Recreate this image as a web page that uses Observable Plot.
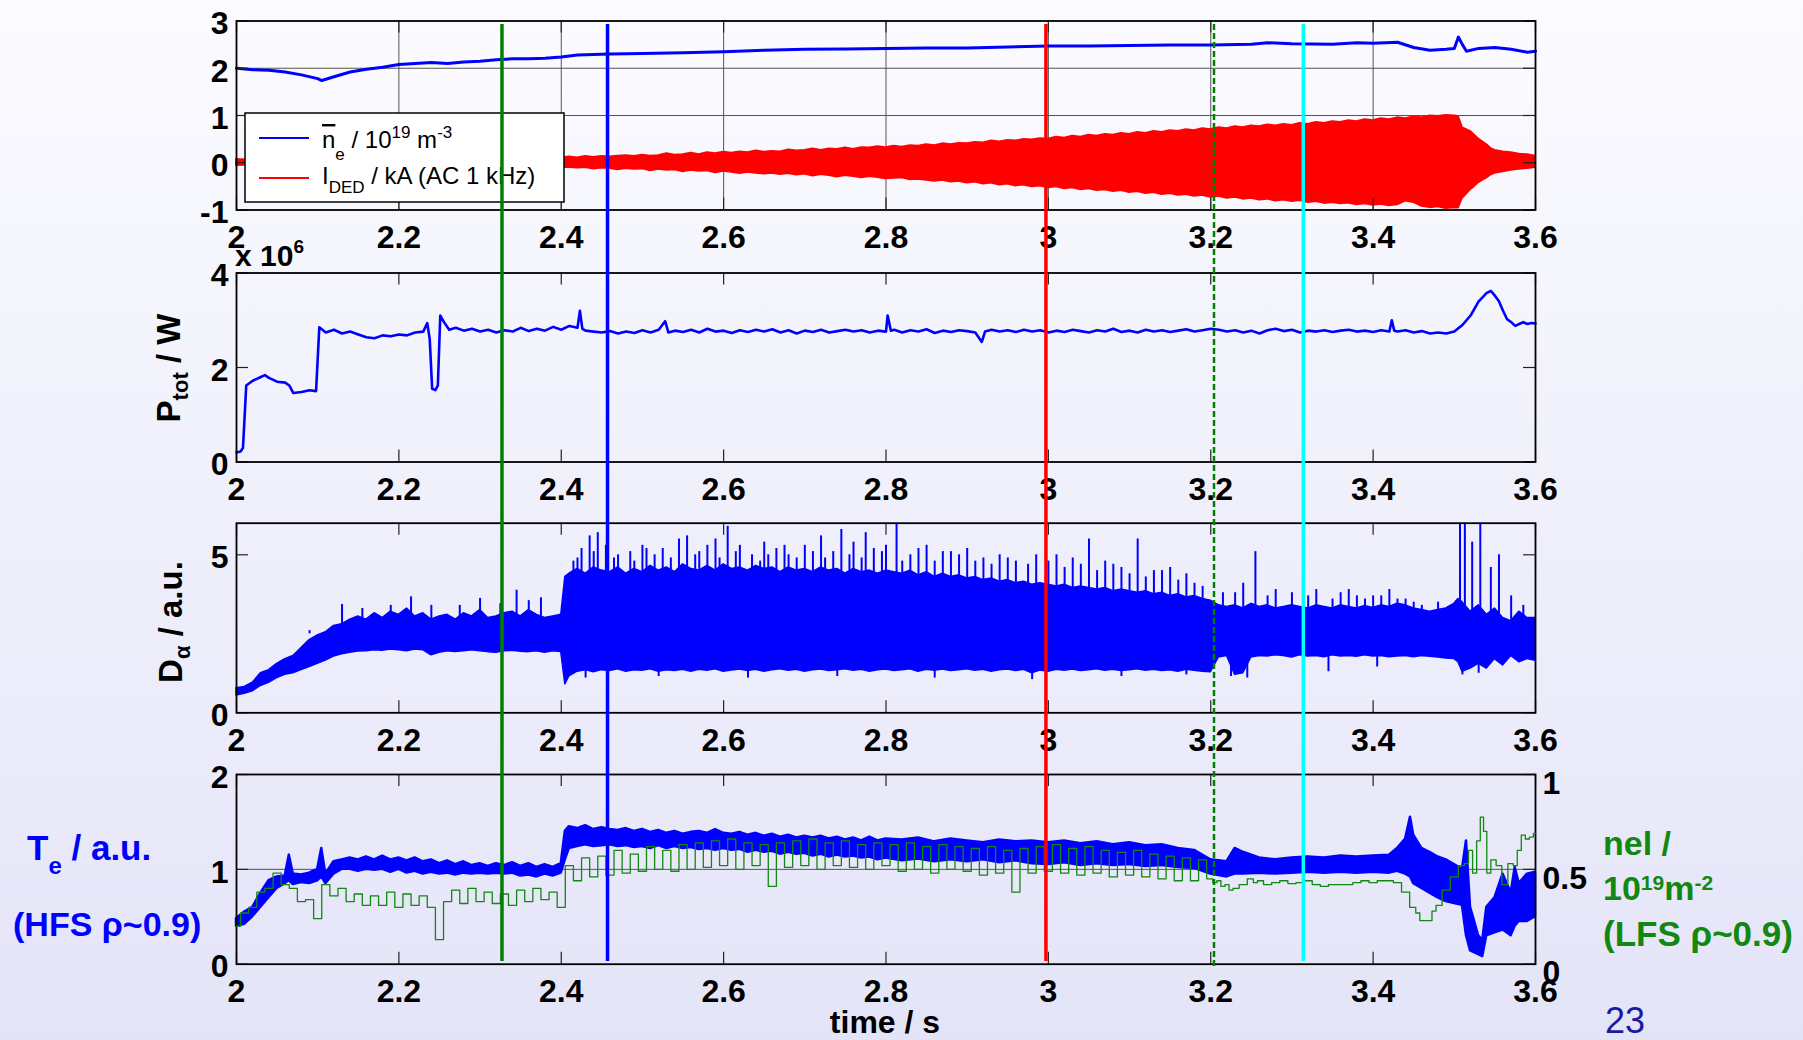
<!DOCTYPE html>
<html><head><meta charset="utf-8">
<script src="https://cdn.jsdelivr.net/npm/d3@7"></script>
<script src="https://cdn.jsdelivr.net/npm/@observablehq/plot@0.6"></script>
<style>
body{margin:0;}
#wrap{position:relative;width:1803px;height:1040px;overflow:hidden;background:linear-gradient(#fbfbff,#e4e4f8);}
#wrap svg{position:absolute;left:0;top:0;overflow:visible;}
</style></head><body><div id="wrap"></div>
<script>
// ---------- data ----------
const xTicks = [2,2.2,2.4,2.6,2.8,3,3.2,3.4,3.6];
const gridXs = [2.2,2.4,2.6,2.8,3,3.2,3.4];
const y1Ticks = [-1,0,1,2,3];
const y2Ticks = [0,2,4];
const y3Ticks = [0,5];
const y4Ticks = [0,1,2];
const y4rTicks = [0,0.5,1];

// panel 1: line-averaged density (1e19 m^-3)
const ne = [[2.00,2.00],[2.02,1.97],[2.04,1.96],[2.06,1.92],[2.08,1.86],[2.10,1.78],[2.105,1.74],[2.12,1.82],[2.14,1.92],[2.16,1.98],[2.18,2.02],[2.20,2.08],[2.22,2.10],[2.24,2.12],[2.26,2.10],[2.28,2.13],[2.30,2.15],[2.32,2.18],[2.34,2.20],[2.36,2.20],[2.38,2.21],[2.40,2.24],[2.42,2.28],[2.44,2.29],[2.46,2.30],[2.50,2.31],[2.55,2.33],[2.60,2.35],[2.65,2.38],[2.70,2.40],[2.75,2.41],[2.80,2.42],[2.85,2.43],[2.90,2.43],[2.95,2.45],[3.00,2.47],[3.05,2.47],[3.10,2.48],[3.15,2.49],[3.20,2.49],[3.25,2.51],[3.27,2.54],[3.30,2.52],[3.35,2.51],[3.38,2.54],[3.40,2.53],[3.43,2.55],[3.45,2.44],[3.47,2.38],[3.49,2.40],[3.50,2.42],[3.505,2.66],[3.51,2.50],[3.515,2.36],[3.53,2.42],[3.55,2.44],[3.57,2.40],[3.59,2.34],[3.60,2.36]];
// panel 1: I_DED envelope (t, lower, upper) kA
const ided = [[2.00,-0.06,0.07],[2.02,-0.05,0.05],[2.05,-0.06,0.06],[2.10,-0.06,0.06],[2.20,-0.07,0.07],[2.30,-0.08,0.08],[2.40,-0.10,0.10],[2.41,-0.10,0.12],[2.42,-0.11,0.10],[2.43,-0.10,0.13],[2.44,-0.13,0.11],[2.45,-0.11,0.13],[2.46,-0.12,0.12],[2.47,-0.15,0.14],[2.48,-0.12,0.15],[2.49,-0.14,0.13],[2.50,-0.13,0.16],[2.51,-0.17,0.14],[2.52,-0.14,0.15],[2.53,-0.16,0.19],[2.54,-0.15,0.16],[2.55,-0.19,0.17],[2.56,-0.16,0.20],[2.57,-0.18,0.17],[2.58,-0.17,0.21],[2.59,-0.21,0.19],[2.60,-0.18,0.22],[2.61,-0.20,0.20],[2.62,-0.23,0.23],[2.63,-0.20,0.21],[2.64,-0.22,0.25],[2.65,-0.24,0.22],[2.66,-0.22,0.24],[2.67,-0.25,0.23],[2.68,-0.23,0.27],[2.69,-0.26,0.25],[2.70,-0.24,0.26],[2.71,-0.28,0.29],[2.72,-0.25,0.26],[2.73,-0.27,0.29],[2.74,-0.30,0.28],[2.75,-0.27,0.31],[2.76,-0.29,0.28],[2.77,-0.32,0.32],[2.78,-0.29,0.31],[2.79,-0.31,0.34],[2.80,-0.34,0.32],[2.81,-0.33,0.35],[2.82,-0.32,0.33],[2.83,-0.36,0.36],[2.84,-0.35,0.35],[2.85,-0.37,0.38],[2.86,-0.39,0.36],[2.87,-0.37,0.40],[2.88,-0.41,0.38],[2.89,-0.39,0.41],[2.90,-0.43,0.40],[2.91,-0.41,0.43],[2.92,-0.45,0.42],[2.93,-0.43,0.46],[2.94,-0.47,0.44],[2.95,-0.45,0.47],[2.96,-0.49,0.46],[2.97,-0.47,0.49],[2.98,-0.51,0.48],[2.99,-0.49,0.51],[3.00,-0.53,0.50],[3.01,-0.51,0.54],[3.02,-0.55,0.52],[3.03,-0.53,0.56],[3.04,-0.57,0.54],[3.05,-0.55,0.58],[3.06,-0.59,0.56],[3.07,-0.57,0.60],[3.08,-0.61,0.58],[3.09,-0.59,0.62],[3.10,-0.63,0.60],[3.11,-0.61,0.64],[3.12,-0.65,0.62],[3.13,-0.63,0.66],[3.14,-0.67,0.64],[3.15,-0.65,0.68],[3.16,-0.69,0.66],[3.17,-0.67,0.70],[3.18,-0.71,0.68],[3.19,-0.69,0.72],[3.20,-0.73,0.70],[3.21,-0.71,0.74],[3.22,-0.75,0.72],[3.23,-0.73,0.76],[3.24,-0.77,0.74],[3.25,-0.75,0.78],[3.26,-0.79,0.76],[3.27,-0.77,0.80],[3.28,-0.81,0.78],[3.29,-0.79,0.81],[3.30,-0.82,0.79],[3.31,-0.80,0.83],[3.32,-0.84,0.81],[3.33,-0.82,0.85],[3.34,-0.86,0.83],[3.35,-0.84,0.87],[3.36,-0.87,0.85],[3.37,-0.85,0.89],[3.38,-0.89,0.87],[3.39,-0.87,0.91],[3.40,-0.90,0.89],[3.41,-0.88,0.93],[3.42,-0.91,0.91],[3.43,-0.89,0.95],[3.44,-0.81,0.93],[3.45,-0.84,0.97],[3.46,-0.92,0.95],[3.47,-0.95,0.99],[3.48,-0.93,0.98],[3.49,-0.97,1.00],[3.50,-0.95,0.99],[3.505,-0.96,0.98],[3.51,-0.75,0.74],[3.515,-0.66,0.70],[3.52,-0.57,0.66],[3.525,-0.50,0.58],[3.53,-0.42,0.50],[3.54,-0.32,0.38],[3.545,-0.26,0.30],[3.55,-0.22,0.26],[3.56,-0.19,0.23],[3.57,-0.16,0.21],[3.58,-0.14,0.18],[3.59,-0.12,0.17],[3.60,-0.10,0.14]];

// panel 2: P_tot (1e6 W)
const ptot = [[2.000,0.20],[2.005,0.22],[2.008,0.30],[2.012,1.62],[2.02,1.72],[2.03,1.80],[2.035,1.84],[2.04,1.78],[2.05,1.70],[2.06,1.68],[2.065,1.62],[2.07,1.46],[2.08,1.48],[2.09,1.52],[2.098,1.50],[2.102,2.85],[2.11,2.74],[2.12,2.80],[2.13,2.72],[2.14,2.76],[2.15,2.70],[2.16,2.64],[2.17,2.62],[2.18,2.68],[2.19,2.66],[2.20,2.70],[2.21,2.68],[2.22,2.74],[2.23,2.76],[2.235,2.94],[2.238,2.60],[2.241,1.55],[2.245,1.52],[2.248,1.62],[2.251,3.10],[2.256,2.95],[2.262,2.80],[2.27,2.84],[2.28,2.78],[2.29,2.82],[2.30,2.76],[2.31,2.80],[2.32,2.74],[2.33,2.79],[2.34,2.76],[2.35,2.84],[2.36,2.77],[2.37,2.82],[2.38,2.78],[2.39,2.86],[2.40,2.80],[2.41,2.88],[2.42,2.84],[2.423,3.20],[2.426,2.82],[2.43,2.78],[2.44,2.76],[2.45,2.74],[2.46,2.77],[2.47,2.72],[2.48,2.76],[2.49,2.73],[2.50,2.79],[2.51,2.74],[2.52,2.80],[2.528,2.98],[2.532,2.74],[2.54,2.78],[2.55,2.75],[2.56,2.80],[2.57,2.74],[2.58,2.82],[2.59,2.76],[2.60,2.78],[2.61,2.73],[2.62,2.79],[2.63,2.75],[2.64,2.80],[2.65,2.76],[2.66,2.81],[2.67,2.74],[2.68,2.79],[2.69,2.72],[2.70,2.78],[2.71,2.75],[2.72,2.80],[2.73,2.74],[2.74,2.77],[2.75,2.80],[2.76,2.76],[2.77,2.79],[2.78,2.74],[2.79,2.78],[2.80,2.76],[2.802,3.10],[2.806,2.78],[2.81,2.80],[2.82,2.74],[2.83,2.79],[2.84,2.76],[2.85,2.81],[2.86,2.73],[2.87,2.78],[2.88,2.75],[2.89,2.79],[2.90,2.77],[2.91,2.74],[2.918,2.54],[2.922,2.76],[2.93,2.80],[2.94,2.76],[2.95,2.79],[2.96,2.75],[2.97,2.80],[2.98,2.76],[2.99,2.79],[3.00,2.74],[3.01,2.78],[3.02,2.75],[3.03,2.80],[3.04,2.77],[3.05,2.74],[3.06,2.79],[3.07,2.76],[3.08,2.82],[3.09,2.75],[3.10,2.78],[3.11,2.74],[3.12,2.80],[3.13,2.76],[3.14,2.79],[3.15,2.75],[3.16,2.78],[3.17,2.81],[3.18,2.76],[3.19,2.79],[3.20,2.82],[3.21,2.80],[3.22,2.76],[3.23,2.79],[3.24,2.74],[3.25,2.78],[3.26,2.72],[3.27,2.79],[3.28,2.82],[3.29,2.77],[3.30,2.80],[3.31,2.74],[3.32,2.78],[3.33,2.76],[3.34,2.79],[3.35,2.75],[3.36,2.78],[3.37,2.80],[3.38,2.76],[3.39,2.78],[3.40,2.75],[3.41,2.79],[3.42,2.76],[3.423,3.00],[3.426,2.78],[3.43,2.76],[3.44,2.79],[3.45,2.74],[3.46,2.77],[3.47,2.72],[3.48,2.74],[3.49,2.72],[3.50,2.76],[3.51,2.90],[3.52,3.10],[3.53,3.40],[3.54,3.58],[3.545,3.62],[3.55,3.52],[3.555,3.40],[3.56,3.20],[3.565,3.02],[3.57,2.96],[3.575,2.88],[3.58,2.92],[3.585,2.96],[3.59,2.92],[3.595,2.94],[3.60,2.93]];

// panel 3: D_alpha band (t, low, high) a.u.
const da = [[2.00,.55,.78],[2.01,.60,.82],[2.02,.68,.95],[2.03,.85,1.25],[2.04,.95,1.35],[2.05,1.10,1.55],[2.06,1.20,1.70],[2.07,1.25,1.80],[2.08,1.35,2.05],[2.09,1.45,2.30],[2.10,1.55,2.45],[2.11,1.65,2.55],[2.12,1.78,2.75],[2.13,1.85,2.80],[2.14,1.90,2.95],[2.15,1.94,3.05],[2.16,1.95,2.95],[2.17,1.98,3.15],[2.18,1.96,3.00],[2.19,2.00,3.20],[2.20,1.98,3.10],[2.21,1.95,3.30],[2.22,2.00,3.05],[2.23,1.98,3.15],[2.24,1.82,2.95],[2.25,1.90,3.05],[2.26,1.95,3.10],[2.27,1.92,2.95],[2.28,1.95,3.15],[2.29,1.98,3.05],[2.30,1.95,3.25],[2.31,1.92,3.00],[2.32,1.90,3.05],[2.33,1.95,3.15],[2.34,1.96,3.20],[2.35,1.93,3.05],[2.36,1.92,3.25],[2.37,1.95,3.10],[2.38,1.90,3.00],[2.39,1.95,3.05],[2.40,1.92,3.10],[2.405,0.90,4.30],[2.41,1.15,4.40],[2.42,1.30,4.55],[2.43,1.35,4.40],[2.44,1.28,4.60],[2.45,1.35,4.50],[2.46,1.32,4.45],[2.47,1.38,4.60],[2.48,1.30,4.40],[2.49,1.35,4.55],[2.50,1.33,4.45],[2.51,1.38,4.65],[2.52,1.30,4.50],[2.53,1.35,4.60],[2.54,1.32,4.45],[2.55,1.36,4.70],[2.56,1.30,4.55],[2.57,1.36,4.50],[2.58,1.33,4.65],[2.59,1.38,4.50],[2.60,1.30,4.70],[2.61,1.34,4.55],[2.62,1.37,4.60],[2.63,1.32,4.50],[2.64,1.36,4.65],[2.65,1.30,4.55],[2.66,1.35,4.60],[2.67,1.38,4.45],[2.68,1.33,4.60],[2.69,1.36,4.50],[2.70,1.30,4.55],[2.71,1.35,4.45],[2.72,1.37,4.60],[2.73,1.32,4.50],[2.74,1.35,4.55],[2.75,1.38,4.40],[2.76,1.33,4.55],[2.77,1.36,4.45],[2.78,1.30,4.50],[2.79,1.35,4.40],[2.80,1.37,4.50],[2.81,1.32,4.45],[2.82,1.35,4.40],[2.83,1.38,4.50],[2.84,1.30,4.35],[2.85,1.36,4.45],[2.86,1.33,4.30],[2.87,1.37,4.40],[2.88,1.32,4.30],[2.89,1.35,4.35],[2.90,1.38,4.25],[2.91,1.33,4.30],[2.92,1.36,4.20],[2.93,1.30,4.25],[2.94,1.35,4.15],[2.95,1.37,4.20],[2.96,1.32,4.10],[2.97,1.36,4.15],[2.98,1.25,4.05],[2.99,1.34,4.10],[3.00,1.30,4.05],[3.01,1.36,4.00],[3.02,1.33,4.05],[3.03,1.37,3.95],[3.04,1.32,4.00],[3.05,1.35,3.95],[3.06,1.38,3.90],[3.07,1.33,3.95],[3.08,1.36,3.85],[3.09,1.32,3.90],[3.10,1.35,3.85],[3.11,1.38,3.80],[3.12,1.33,3.85],[3.13,1.36,3.75],[3.14,1.32,3.80],[3.15,1.35,3.70],[3.16,1.30,3.75],[3.17,1.36,3.65],[3.18,1.33,3.70],[3.19,1.30,3.60],[3.20,1.28,3.55],[3.21,1.75,3.40],[3.22,1.80,3.35],[3.23,1.20,3.40],[3.24,1.25,3.30],[3.25,1.75,3.45],[3.26,1.80,3.35],[3.27,1.78,3.40],[3.28,1.82,3.30],[3.29,1.80,3.35],[3.30,1.75,3.40],[3.31,1.82,3.35],[3.32,1.78,3.30],[3.33,1.80,3.40],[3.34,1.76,3.35],[3.35,1.82,3.30],[3.36,1.78,3.40],[3.37,1.80,3.35],[3.38,1.77,3.30],[3.39,1.82,3.38],[3.40,1.78,3.32],[3.41,1.80,3.40],[3.42,1.76,3.35],[3.43,1.78,3.45],[3.44,1.80,3.40],[3.45,1.76,3.30],[3.46,1.80,3.25],[3.47,1.77,3.20],[3.48,1.75,3.25],[3.49,1.72,3.30],[3.50,1.70,3.45],[3.505,1.60,3.60],[3.51,1.30,3.50],[3.52,1.40,3.20],[3.53,1.55,3.40],[3.54,1.40,3.10],[3.55,1.70,3.30],[3.56,1.50,3.00],[3.57,1.80,2.90],[3.58,1.60,3.20],[3.59,1.70,3.00],[3.60,1.65,3.00]];
// panel 3: D_alpha spikes (t, peak or dip)
const daSpikes = [[2.09,2.6],[2.13,3.43],[2.155,3.3],[2.19,3.40],[2.215,3.67],[2.24,3.4],[2.275,3.4],[2.30,3.62],[2.325,3.45],[2.345,3.88],[2.36,3.55],[2.375,3.64],
[2.415,4.8],[2.42,4.9],[2.425,5.2],[2.435,5.6],[2.44,5.1],[2.445,5.7],[2.455,5.3],[2.465,4.9],[2.47,5.0],[2.485,5.1],[2.49,4.8],[2.50,5.3],[2.505,5.2],[2.515,5.0],[2.525,5.2],[2.535,4.9],[2.545,5.5],[2.555,5.6],[2.565,5.0],[2.57,5.1],[2.58,5.3],[2.59,5.5],[2.595,4.9],[2.605,5.9],[2.615,5.1],[2.62,5.3],[2.635,5.0],[2.645,4.8],[2.65,5.4],[2.655,5.0],[2.665,5.2],[2.675,5.3],[2.68,5.0],[2.69,4.9],[2.70,5.3],[2.71,5.1],[2.72,5.6],[2.725,4.9],[2.735,5.1],[2.745,5.8],[2.755,5.0],[2.76,5.4],[2.77,4.9],[2.775,5.7],[2.785,5.2],[2.795,5.1],[2.80,5.3],[2.813,6.0],[2.82,4.8],[2.83,5.0],[2.84,5.2],[2.85,5.3],[2.86,4.8],[2.87,5.1],[2.88,5.1],[2.89,5.0],[2.90,5.2],[2.91,4.8],[2.92,4.9],[2.93,4.7],[2.94,5.0],[2.95,4.9],[2.96,4.8],[2.975,4.7],[2.985,5.0],[3.00,4.8],[3.01,5.0],[3.02,4.6],[3.03,4.9],[3.04,4.7],[3.05,5.5],[3.06,4.5],[3.07,4.8],[3.08,4.7],[3.09,4.6],[3.10,4.4],[3.11,5.5],[3.12,4.3],[3.13,4.5],[3.14,4.5],[3.15,4.6],[3.16,4.2],[3.17,4.4],[3.18,4.1],[3.19,4.0],[3.215,3.8],[3.23,3.8],[3.24,4.1],[3.255,5.1],[3.27,3.7],[3.28,3.9],[3.30,3.8],[3.32,3.7],[3.33,3.9],[3.35,3.6],[3.36,3.8],[3.37,3.9],[3.38,3.7],[3.39,3.6],[3.40,3.7],[3.41,3.7],[3.42,3.9],[3.43,3.6],[3.44,3.6],[3.45,3.5],[3.46,3.4],[3.48,3.5],[3.507,6.0],[3.513,6.0],[3.522,5.4],[3.532,6.0],[3.545,4.6],[3.555,5.0],[3.57,3.7],[3.585,3.4],
[2.43,1.1],[2.52,1.15],[2.63,1.1],[2.74,1.15],[2.86,1.1],[2.98,1.05],[3.09,1.15],[3.17,1.2],[3.225,1.15],[3.245,1.1],[3.345,1.3],[3.405,1.45],[3.51,1.2],[3.53,1.25]];

// panel 4: T_e band (t, low, high) a.u.
const te = [[2.00,.40,.48],[2.01,.42,.55],[2.02,.50,.60],[2.03,.60,.75],[2.04,.70,.88],[2.05,.80,.92],[2.06,.85,.93],[2.065,.88,1.15],[2.07,.84,.95],[2.08,.86,.94],[2.09,.85,.96],[2.10,.88,1.00],[2.105,.92,1.22],[2.11,.85,.95],[2.12,.95,1.08],[2.13,1.00,1.10],[2.14,1.00,1.12],[2.15,.98,1.10],[2.16,1.00,1.13],[2.17,.99,1.10],[2.18,1.00,1.14],[2.19,.97,1.10],[2.20,1.00,1.12],[2.21,.96,1.09],[2.22,.98,1.12],[2.23,.95,1.08],[2.24,.97,1.10],[2.25,.95,1.06],[2.26,.96,1.09],[2.27,.94,1.05],[2.28,.96,1.08],[2.29,.95,1.04],[2.30,.96,1.06],[2.31,.95,1.03],[2.32,.96,1.06],[2.33,.95,1.04],[2.34,.96,1.07],[2.35,.93,1.03],[2.36,.94,1.06],[2.37,.92,1.02],[2.38,.95,1.05],[2.39,.93,1.02],[2.40,.96,1.06],[2.405,1.10,1.40],[2.41,1.22,1.45],[2.42,1.24,1.43],[2.43,1.26,1.46],[2.44,1.24,1.42],[2.45,1.25,1.44],[2.46,1.26,1.42],[2.47,1.24,1.41],[2.48,1.25,1.43],[2.49,1.23,1.40],[2.50,1.24,1.42],[2.51,1.22,1.39],[2.52,1.25,1.41],[2.53,1.22,1.38],[2.54,1.24,1.40],[2.55,1.22,1.37],[2.56,1.23,1.39],[2.57,1.21,1.40],[2.58,1.22,1.38],[2.59,1.20,1.42],[2.60,1.22,1.38],[2.61,1.20,1.37],[2.62,1.21,1.39],[2.63,1.18,1.36],[2.64,1.20,1.38],[2.65,1.18,1.35],[2.66,1.19,1.37],[2.67,1.16,1.34],[2.68,1.18,1.36],[2.69,1.16,1.33],[2.70,1.17,1.35],[2.71,1.14,1.33],[2.72,1.16,1.35],[2.73,1.13,1.32],[2.74,1.15,1.34],[2.75,1.13,1.31],[2.76,1.14,1.33],[2.77,1.12,1.30],[2.78,1.13,1.34],[2.79,1.10,1.30],[2.80,1.12,1.32],[2.82,1.09,1.31],[2.84,1.11,1.33],[2.86,1.08,1.29],[2.88,1.10,1.32],[2.90,1.08,1.30],[2.92,1.10,1.28],[2.94,1.07,1.31],[2.96,1.09,1.29],[2.98,1.06,1.30],[3.00,1.05,1.28],[3.02,1.07,1.30],[3.04,1.04,1.27],[3.06,1.06,1.29],[3.08,1.04,1.26],[3.10,1.05,1.28],[3.12,1.03,1.25],[3.14,1.04,1.26],[3.16,1.02,1.22],[3.18,1.01,1.20],[3.20,.95,1.10],[3.22,.92,1.08],[3.23,.95,1.22],[3.24,.95,1.18],[3.26,.96,1.12],[3.28,.95,1.10],[3.30,.96,1.12],[3.32,.97,1.13],[3.34,.96,1.12],[3.36,.97,1.14],[3.38,.96,1.13],[3.40,.97,1.14],[3.42,.96,1.15],[3.43,.98,1.22],[3.44,.95,1.32],[3.446,.92,1.55],[3.45,.85,1.36],[3.46,.80,1.22],[3.47,.75,1.18],[3.48,.70,1.13],[3.49,.66,1.10],[3.50,.64,1.05],[3.51,.62,1.00],[3.515,.30,1.30],[3.52,.14,.60],[3.53,.10,.30],[3.535,.08,.25],[3.54,.30,.60],[3.55,.33,.70],[3.56,.36,.95],[3.57,.30,.75],[3.575,.40,1.02],[3.58,.45,.85],[3.59,.45,.95],[3.60,.50,.97]];
// panel 4: nel (1e19 m^-2), right axis
const nel = [[2.00,.20],[2.01,.27],[2.02,.30],[2.03,.38],[2.04,.40],[2.05,.48],[2.06,.42],[2.07,.40],[2.08,.33],[2.09,.34],[2.10,.24],[2.11,.42],[2.12,.36],[2.13,.40],[2.14,.33],[2.15,.37],[2.16,.31],[2.17,.36],[2.18,.31],[2.19,.38],[2.20,.30],[2.21,.37],[2.22,.31],[2.23,.36],[2.24,.30],[2.25,.13],[2.26,.33],[2.27,.39],[2.28,.32],[2.29,.40],[2.30,.33],[2.31,.38],[2.32,.32],[2.33,.37],[2.34,.31],[2.35,.39],[2.36,.33],[2.37,.40],[2.38,.34],[2.39,.38],[2.40,.30],[2.41,.52],[2.42,.44],[2.43,.56],[2.44,.46],[2.45,.57],[2.46,.47],[2.47,.60],[2.48,.48],[2.49,.58],[2.50,.49],[2.51,.62],[2.52,.50],[2.53,.60],[2.54,.49],[2.55,.63],[2.56,.50],[2.57,.64],[2.58,.51],[2.59,.65],[2.60,.52],[2.61,.66],[2.62,.50],[2.63,.64],[2.64,.52],[2.65,.63],[2.66,.41],[2.67,.64],[2.68,.51],[2.69,.65],[2.70,.52],[2.71,.66],[2.72,.50],[2.73,.64],[2.74,.52],[2.75,.65],[2.76,.51],[2.77,.63],[2.78,.50],[2.79,.64],[2.80,.52],[2.81,.63],[2.82,.49],[2.83,.64],[2.84,.50],[2.85,.62],[2.86,.48],[2.87,.63],[2.88,.50],[2.89,.62],[2.90,.49],[2.91,.61],[2.92,.47],[2.93,.62],[2.94,.48],[2.95,.60],[2.96,.38],[2.97,.61],[2.98,.48],[2.99,.62],[3.00,.49],[3.01,.63],[3.02,.48],[3.03,.61],[3.04,.47],[3.05,.62],[3.06,.48],[3.07,.60],[3.08,.46],[3.09,.59],[3.10,.47],[3.11,.60],[3.12,.46],[3.13,.58],[3.14,.45],[3.15,.57],[3.16,.44],[3.17,.56],[3.18,.44],[3.19,.55],[3.20,.45],[3.205,.43],[3.21,.44],[3.215,.41],[3.22,.42],[3.225,.39],[3.23,.40],[3.24,.42],[3.25,.45],[3.255,.43],[3.26,.44],[3.27,.42],[3.28,.43],[3.29,.44],[3.30,.425],[3.31,.43],[3.32,.44],[3.33,.42],[3.34,.41],[3.35,.42],[3.36,.42],[3.37,.42],[3.38,.43],[3.39,.44],[3.40,.43],[3.41,.44],[3.42,.44],[3.43,.43],[3.44,.38],[3.45,.30],[3.455,.27],[3.46,.23],[3.47,.23],[3.475,.28],[3.48,.31],[3.49,.39],[3.50,.46],[3.51,.52],[3.515,.53],[3.52,.60],[3.525,.48],[3.53,.65],[3.534,.775],[3.538,.70],[3.542,.48],[3.548,.55],[3.555,.52],[3.562,.42],[3.57,.53],[3.575,.52],[3.58,.60],[3.585,.68],[3.59,.66],[3.595,.67],[3.60,.69]];

// vertical time markers
const markers = [{t:2.327,color:"#008000"},{t:2.457,color:"#0000ff"},{t:2.997,color:"#ff0000"},{t:3.314,color:"#00ffff"}];
const dashedMarkers = [{t:3.204,color:"#008000"}];

// ---------- layout ----------
const W=1803,H=1040,L=236,R=1535;
const P=[{top:20.5,bottom:209.5},{top:272.5,bottom:461.5},{top:522.7,bottom:712.3},{top:774,bottom:963.7}];
const FONT="Liberation Sans, Arial, Helvetica, sans-serif";
const fmt = d => String(Math.round(d*10)/10);
const BLUE="#0000ff", RED="#ff0000", GREEN="#118811";
const wrap=document.getElementById("wrap");

function panel(i, yDomain, yTicks, marks, extra=[]) {
  const {top,bottom}=P[i]; const h=bottom-top, w=R-L;
  return Plot.plot({
    width:W,height:H,marginLeft:L,marginRight:W-R,marginTop:top,marginBottom:H-bottom,
    x:{domain:[2,3.6]}, y:{domain:yDomain},
    style:{background:"transparent",overflow:"visible",fontFamily:FONT},
    marks:[
      ...extra,
      ...marks,
      Plot.tickX(xTicks,{x:d=>d,insetBottom:h-12,stroke:"#222",strokeWidth:1.2}),
      Plot.tickX(xTicks,{x:d=>d,insetTop:h-12,stroke:"#222",strokeWidth:1.2}),
      Plot.tickY(yTicks,{y:d=>d,insetRight:w-12,stroke:"#222",strokeWidth:1.2}),
      Plot.tickY(yTicks,{y:d=>d,insetLeft:w-12,stroke:"#222",strokeWidth:1.2}),
      Plot.frame({stroke:"black",strokeWidth:1.8}),
      Plot.axisX(xTicks,{anchor:"bottom",label:null,tickSize:0,tickPadding:15,tickFormat:fmt,fontSize:32,fontWeight:"bold",fill:"black"}),
      Plot.axisY(yTicks,{anchor:"left",label:null,tickSize:0,tickPadding:8,tickFormat:fmt,fontSize:32,fontWeight:"bold",dy:3,fill:"black"})
    ]
  });
}

const p1 = panel(0,[-1,3],y1Ticks,[
  Plot.areaY(ided,{x:d=>d[0],y1:d=>d[1],y2:d=>d[2],fill:RED,stroke:RED,strokeWidth:2}),
  Plot.line(ne,{x:d=>d[0],y:d=>d[1],stroke:BLUE,strokeWidth:3})
],[
  Plot.ruleX(gridXs,{x:d=>d,stroke:"#555",strokeWidth:1}),
  Plot.ruleY([0,1,2],{y:d=>d,stroke:"#555",strokeWidth:1})
]);
const p2 = panel(1,[0,4],y2Ticks,[
  Plot.line(ptot,{x:d=>d[0],y:d=>d[1],stroke:BLUE,strokeWidth:2.6})
]);
const p3 = panel(2,[0,6],y3Ticks,[
  Plot.areaY(da,{x:d=>d[0],y1:d=>d[1],y2:d=>d[2],fill:BLUE,stroke:BLUE,strokeWidth:1.5}),
  Plot.ruleX(daSpikes,{x:d=>d[0],y1:2.5,y2:d=>d[1],stroke:BLUE,strokeWidth:2})
]);
const p4 = panel(3,[0,2],y4Ticks,[
  Plot.areaY(te,{x:d=>d[0],y1:d=>d[1],y2:d=>d[2],fill:BLUE,stroke:BLUE,strokeWidth:2.5})
],[
  Plot.ruleY([1],{y:d=>d,stroke:"#555",strokeWidth:1})
]);
const p4r = Plot.plot({
  width:W,height:H,marginLeft:L,marginRight:W-R,marginTop:P[3].top,marginBottom:H-P[3].bottom,
  x:{domain:[2,3.6],axis:null}, y:{domain:[0,1],axis:null},
  style:{background:"transparent",overflow:"visible",fontFamily:FONT},
  marks:[
    Plot.line(nel,{x:d=>d[0],y:d=>d[1],stroke:GREEN,strokeWidth:1.3,curve:"step"}),
    Plot.axisY(y4rTicks,{anchor:"right",label:null,tickSize:0,tickPadding:7,tickFormat:fmt,fontSize:32,fontWeight:"bold",dy:9,fill:"black"})
  ]
});
[p1,p2,p3,p4,p4r].forEach(s=>wrap.appendChild(s));

// ---------- labels & legend ----------
const lab = d3.select(wrap).append("svg").attr("width",W).attr("height",H).style("font-family",FONT);
function txt(x,y,parts,o){
  const t=lab.append("text").attr("x",x).attr("y",y).attr("font-size",o.size)
    .attr("font-weight",o.weight||"bold").attr("fill",o.fill||"black").attr("text-anchor",o.anchor||"start");
  if(o.rotate) t.attr("transform",`rotate(${o.rotate},${x},${y})`);
  let cur=0;
  for(const p of parts){
    const [s,sz,off,deco]=p; const o2=off||0;
    const ts=t.append("tspan").text(s).attr("dy",o2-cur);
    if(sz) ts.attr("font-size",sz);
    if(deco) ts.style("text-decoration",deco);
    cur=o2;
  }
  return t;
}
// legend box
lab.append("rect").attr("x",245).attr("y",113).attr("width",319).attr("height",89).attr("fill","white").attr("stroke","black").attr("stroke-width",1.5);
lab.append("line").attr("x1",259).attr("x2",309).attr("y1",138).attr("y2",138).attr("stroke",BLUE).attr("stroke-width",2.2);
lab.append("line").attr("x1",259).attr("x2",309).attr("y1",178).attr("y2",178).attr("stroke",RED).attr("stroke-width",2.2);
txt(322,148,[["n",null,0,"overline"],["e",17,12],[" / 10",null,0],["19",17,-10],[" m",null,0],["-3",17,-10]],{size:24,weight:"normal"});
txt(322,184,[["I"],["DED",17,9],[" / kA (AC 1 kHz)",null,0]],{size:24,weight:"normal"});

txt(235,266,[["x 10"],["6",19,-13]],{size:30});
txt(180,368,[["P"],["tot",22,8],[" / W",null,0]],{size:33,rotate:-90,anchor:"middle"});
txt(182,622,[["D"],["α",22,8],["  / a.u.",null,0]],{size:33,rotate:-90,anchor:"middle"});
txt(27,860,[["T"],["e",24,14],[" / a.u.",null,0]],{size:35,fill:BLUE});
txt(13,936,[["(HFS ρ~0.9)"]],{size:34,fill:BLUE});
txt(1603,855,[["nel /"]],{size:34,fill:GREEN});
txt(1603,900,[["10"],["19",21,-10],["m",null,0],["-2",21,-10]],{size:34,fill:GREEN});
txt(1603,946,[["(LFS ρ~0.9)"]],{size:35,fill:GREEN});
txt(885,1033,[["time / s"]],{size:32,anchor:"middle"});
txt(1605,1033,[["23"]],{size:36,weight:"normal",fill:"#1a1a9e"});

// ---------- vertical markers overlay ----------
const ov = Plot.plot({
  width:W,height:H,marginLeft:L,marginRight:W-R,marginTop:24,marginBottom:H-961,
  x:{domain:[2,3.6],axis:null}, y:{domain:[0,1],axis:null},
  style:{background:"transparent",overflow:"visible"},
  marks:[
    ...markers.map(m=>Plot.ruleX([m],{x:"t",stroke:m.color,strokeWidth:3.5})),
    ...dashedMarkers.map(m=>Plot.ruleX([m],{x:"t",stroke:m.color,strokeWidth:2.5,strokeDasharray:"6,3",insetBottom:-5}))
  ]
});
wrap.appendChild(ov);
</script></body></html>
